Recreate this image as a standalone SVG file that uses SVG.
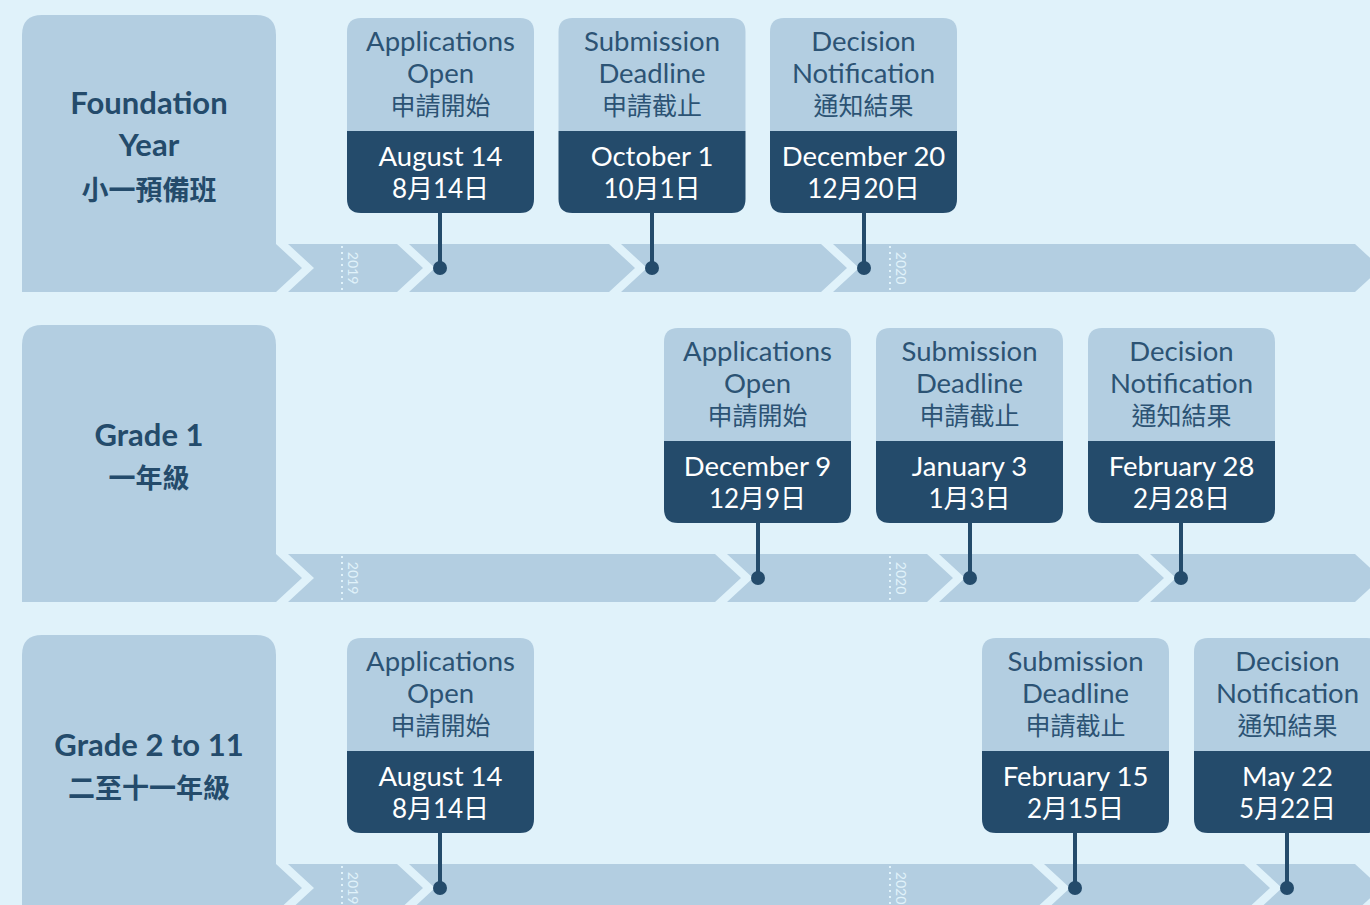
<svg xmlns="http://www.w3.org/2000/svg" xmlns:xlink="http://www.w3.org/1999/xlink" width="1370" height="905" viewBox="0 0 1370 905">
<style>
.bg{fill:#e0f2fa}
.lt{fill:#b3cee1}
.dk{fill:#244b6b}
.hd{font-family:Lato,"Noto Sans CJK TC",sans-serif;font-weight:bold;fill:#244b6b;text-anchor:middle}
.ti{font-family:Lato,"Noto Sans CJK TC",sans-serif;font-size:27.5px;fill:#2c5374;text-anchor:middle}
.dt{font-family:Lato,"Noto Sans CJK TC",sans-serif;font-size:27.5px;fill:#ffffff;text-anchor:middle}
.cj{font-size:25px}
.dc{font-size:26px}
.yr{font-family:Lato,sans-serif;font-size:14px;fill:#e0f2fa;text-anchor:middle;dominant-baseline:central}
.dots{stroke:#e0f2fa;stroke-width:2;stroke-dasharray:2 4}
.stem{stroke:#244b6b;stroke-width:4}
</style>
<defs>
<polygon id="chev" class="bg" points="-43,244 -31,244 -5,268 -31,292 -43,292 -17,268"/>
<path id="cardLt" class="lt" d="M-79.5,0 H79.5 Q93.5,0 93.5,14 V113 H-93.5 V14 Q-93.5,0 -79.5,0 Z"/>
<path id="cardDk" class="dk" d="M-93.5,113 H93.5 V181 Q93.5,195 79.5,195 H-79.5 Q-93.5,195 -93.5,181 Z"/>
<path id="hdr" class="lt" d="M22,35 Q22,15 42,15 H256 Q276,15 276,35 V292 H22 Z"/>
<polygon id="bar" class="lt" points="276,244 1355,244 1381,268 1355,292 276,292"/>
</defs>
<rect class="bg" x="0" y="0" width="1370" height="905"/>

<!-- Row 1 -->
<g id="row1-bar">
<use href="#bar"/>
<use href="#chev" x="319"/><use href="#chev" x="440"/><use href="#chev" x="652"/><use href="#chev" x="864"/>
<line class="dots" x1="342" y1="246" x2="342" y2="292"/>
<text class="yr" transform="translate(353.5,268) rotate(90)">2019</text>
<line class="dots" x1="890" y1="246" x2="890" y2="292"/>
<text class="yr" transform="translate(901.5,268) rotate(90)">2020</text>
</g>
<g id="row1-header">
<use href="#hdr"/>
<text class="hd" x="149" y="114" font-size="31">Foundation</text>
<text class="hd" x="149" y="156" font-size="31">Year</text>
<text class="hd" x="149" y="200" font-size="27">小一預備班</text>
</g>

<!-- Row 2 -->
<g id="row2-bar" transform="translate(0,310)">
<use href="#bar"/>
<use href="#chev" x="319"/><use href="#chev" x="758"/><use href="#chev" x="970"/><use href="#chev" x="1181"/>
<line class="dots" x1="342" y1="246" x2="342" y2="292"/>
<text class="yr" transform="translate(353.5,268) rotate(90)">2019</text>
<line class="dots" x1="890" y1="246" x2="890" y2="292"/>
<text class="yr" transform="translate(901.5,268) rotate(90)">2020</text>
</g>
<g id="row2-header" transform="translate(0,310)">
<use href="#hdr"/>
<text class="hd" x="149" y="136" font-size="31">Grade 1</text>
<text class="hd" x="149" y="178" font-size="27">一年級</text>
</g>

<!-- Row 3 -->
<g id="row3-bar" transform="translate(0,620)">
<use href="#bar"/>
<use href="#chev" x="319"/><use href="#chev" x="440"/><use href="#chev" x="1075"/><use href="#chev" x="1287"/>
<line class="dots" x1="342" y1="246" x2="342" y2="292"/>
<text class="yr" transform="translate(353.5,268) rotate(90)">2019</text>
<line class="dots" x1="890" y1="246" x2="890" y2="292"/>
<text class="yr" transform="translate(901.5,268) rotate(90)">2020</text>
</g>
<g id="row3-header" transform="translate(0,620)">
<use href="#hdr"/>
<text class="hd" x="149" y="136" font-size="31">Grade 2 to 11</text>
<text class="hd" x="149" y="178" font-size="27">二至十一年級</text>
</g>

<!-- Connectors -->
<g id="connectors">
<line class="stem" x1="440" y1="213" x2="440" y2="268"/><circle class="dk" cx="440" cy="268" r="7"/>
<line class="stem" x1="652" y1="213" x2="652" y2="268"/><circle class="dk" cx="652" cy="268" r="7"/>
<line class="stem" x1="864" y1="213" x2="864" y2="268"/><circle class="dk" cx="864" cy="268" r="7"/>
<line class="stem" x1="758" y1="523" x2="758" y2="578"/><circle class="dk" cx="758" cy="578" r="7"/>
<line class="stem" x1="970" y1="523" x2="970" y2="578"/><circle class="dk" cx="970" cy="578" r="7"/>
<line class="stem" x1="1181" y1="523" x2="1181" y2="578"/><circle class="dk" cx="1181" cy="578" r="7"/>
<line class="stem" x1="440" y1="833" x2="440" y2="888"/><circle class="dk" cx="440" cy="888" r="7"/>
<line class="stem" x1="1075" y1="833" x2="1075" y2="888"/><circle class="dk" cx="1075" cy="888" r="7"/>
<line class="stem" x1="1287" y1="833" x2="1287" y2="888"/><circle class="dk" cx="1287" cy="888" r="7"/>
</g>

<!-- Cards row 1 -->
<g id="r1-open" transform="translate(440.5,18)">
<use href="#cardLt"/><use href="#cardDk"/>
<text class="ti" y="33">Applications</text><text class="ti" y="65">Open</text><text class="ti cj" y="97">申請開始</text>
<text class="dt" y="148">August 14</text><text class="dt dc" y="180">8月14日</text>
</g>
<g id="r1-deadline" transform="translate(652,18)">
<use href="#cardLt"/><use href="#cardDk"/>
<text class="ti" y="33">Submission</text><text class="ti" y="65">Deadline</text><text class="ti cj" y="97">申請截止</text>
<text class="dt" y="148">October 1</text><text class="dt dc" y="180">10月1日</text>
</g>
<g id="r1-decision" transform="translate(863.5,18)">
<use href="#cardLt"/><use href="#cardDk"/>
<text class="ti" y="33">Decision</text><text class="ti" y="65">Notification</text><text class="ti cj" y="97">通知結果</text>
<text class="dt" y="148">December 20</text><text class="dt dc" y="180">12月20日</text>
</g>

<!-- Cards row 2 -->
<g id="r2-open" transform="translate(757.5,328)">
<use href="#cardLt"/><use href="#cardDk"/>
<text class="ti" y="33">Applications</text><text class="ti" y="65">Open</text><text class="ti cj" y="97">申請開始</text>
<text class="dt" y="148">December 9</text><text class="dt dc" y="180">12月9日</text>
</g>
<g id="r2-deadline" transform="translate(969.5,328)">
<use href="#cardLt"/><use href="#cardDk"/>
<text class="ti" y="33">Submission</text><text class="ti" y="65">Deadline</text><text class="ti cj" y="97">申請截止</text>
<text class="dt" y="148">January 3</text><text class="dt dc" y="180">1月3日</text>
</g>
<g id="r2-decision" transform="translate(1181.5,328)">
<use href="#cardLt"/><use href="#cardDk"/>
<text class="ti" y="33">Decision</text><text class="ti" y="65">Notification</text><text class="ti cj" y="97">通知結果</text>
<text class="dt" y="148">February 28</text><text class="dt dc" y="180">2月28日</text>
</g>

<!-- Cards row 3 -->
<g id="r3-open" transform="translate(440.5,638)">
<use href="#cardLt"/><use href="#cardDk"/>
<text class="ti" y="33">Applications</text><text class="ti" y="65">Open</text><text class="ti cj" y="97">申請開始</text>
<text class="dt" y="148">August 14</text><text class="dt dc" y="180">8月14日</text>
</g>
<g id="r3-deadline" transform="translate(1075.5,638)">
<use href="#cardLt"/><use href="#cardDk"/>
<text class="ti" y="33">Submission</text><text class="ti" y="65">Deadline</text><text class="ti cj" y="97">申請截止</text>
<text class="dt" y="148">February 15</text><text class="dt dc" y="180">2月15日</text>
</g>
<g id="r3-decision" transform="translate(1287.5,638)">
<use href="#cardLt"/><use href="#cardDk"/>
<text class="ti" y="33">Decision</text><text class="ti" y="65">Notification</text><text class="ti cj" y="97">通知結果</text>
<text class="dt" y="148">May 22</text><text class="dt dc" y="180">5月22日</text>
</g>
</svg>
